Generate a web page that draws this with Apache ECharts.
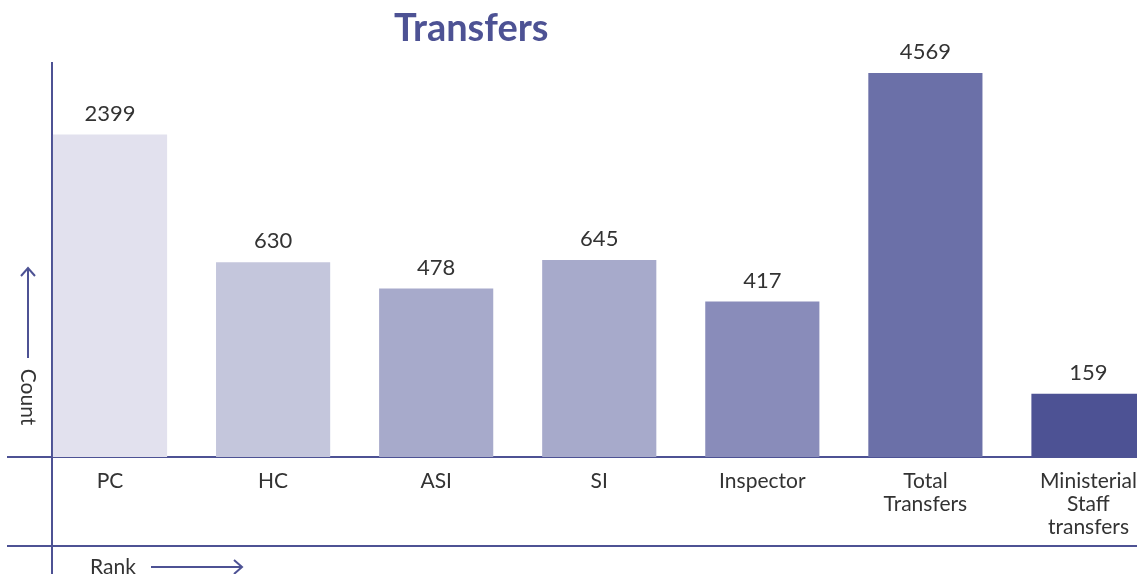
<!DOCTYPE html>
<html>
<head>
<meta charset="utf-8">
<title>Transfers</title>
<script src="https://cdn.jsdelivr.net/npm/echarts@6/dist/echarts.min.js"></script>
<style>
  html, body { margin: 0; padding: 0; background: #fff; overflow: hidden; }
  /* the last bar is cut by the page edge, so the canvas runs a bit wider than the window */
  #main { width: 1170px; height: 574px; }
</style>
</head>
<body>
<div id="main"></div>
<script>
// data
const ranks = ['PC', 'HC', 'ASI', 'SI', 'Inspector', 'Total\nTransfers', 'Ministerial\nStaff\ntransfers']
const counts = [2399, 630, 478, 645, 417, 4569, 159]
const barColors = ['#e2e1ee', '#c4c6dc', '#a7aacb', '#a7aacb', '#898cba', '#6b70a8', '#4d5294']

const lineColor = '#4d5294'
const font = 'Lato, "Open Sans", sans-serif'

const chart = echarts.init(document.getElementById('main'))

chart.setOption({
  animation: false,
  title: {
    text: 'Transfers',
    left: 389,
    top: 5,
    textStyle: {
      color: '#4d5294',
      fontSize: 38,
      fontWeight: 'bold',
      fontFamily: font
    }
  },
  grid: {
    left: 28.5,
    right: 0,
    top: 62,
    bottom: 117,
    containLabel: false
  },
  xAxis: {
    type: 'category',
    data: ranks,
    axisLine: { show: false },
    axisTick: { show: false },
    axisLabel: {
      interval: 0,
      margin: 13,
      color: '#333',
      fontSize: 21,
      lineHeight: 23,
      fontFamily: font
    }
  },
  yAxis: {
    type: 'log',
    logBase: 10,
    min: 82,
    max: 5120,
    axisLine: { show: false },
    axisTick: { show: false },
    axisLabel: { show: false },
    splitLine: { show: false }
  },
  series: [{
    type: 'bar',
    barCategoryGap: '30%',
    data: counts.map((v, i) => ({ value: v, itemStyle: { color: barColors[i] } })),
    label: {
      show: true,
      position: 'top',
      distance: 10,
      color: '#333',
      fontSize: 22,
      fontFamily: font
    }
  }],
  graphic: [
    // y axis line
    { type: 'line', shape: { x1: 52, y1: 62, x2: 52, y2: 574 }, style: { stroke: lineColor, lineWidth: 2 } },
    // x axis line
    { type: 'line', shape: { x1: 7, y1: 457, x2: 1137, y2: 457 }, style: { stroke: lineColor, lineWidth: 2 } },
    // bottom rule
    { type: 'line', shape: { x1: 7, y1: 546, x2: 1137, y2: 546 }, style: { stroke: lineColor, lineWidth: 2 } },
    // Count arrow
    { type: 'line', shape: { x1: 28, y1: 358, x2: 28, y2: 268 }, style: { stroke: lineColor, lineWidth: 2 } },
    { type: 'polyline', shape: { points: [[21, 276], [28, 268], [35, 276]] }, style: { stroke: lineColor, lineWidth: 2, fill: null } },
    {
      type: 'text', x: 28, y: 397, rotation: -Math.PI / 2,
      style: { text: 'Count', fill: '#333', font: '21px ' + font, textAlign: 'center', textVerticalAlign: 'middle' }
    },
    // Rank arrow
    {
      type: 'text', x: 90, y: 567,
      style: { text: 'Rank', fill: '#333', font: '21px ' + font, textAlign: 'left', textVerticalAlign: 'middle' }
    },
    { type: 'line', shape: { x1: 151, y1: 567, x2: 242, y2: 567 }, style: { stroke: lineColor, lineWidth: 2 } },
    { type: 'polyline', shape: { points: [[234, 560], [242, 567], [234, 574]] }, style: { stroke: lineColor, lineWidth: 2, fill: null } }
  ]
})
</script>
</body>
</html>
